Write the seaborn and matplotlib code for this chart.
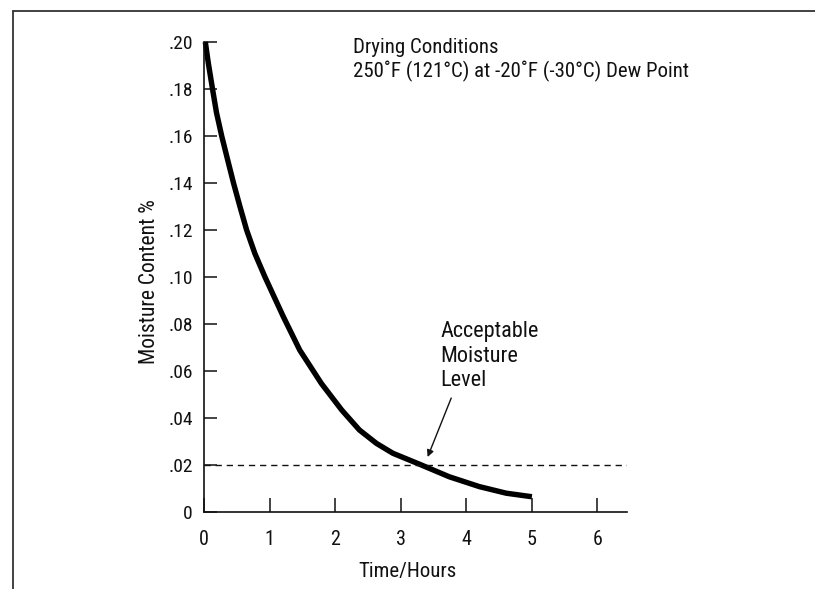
import matplotlib
matplotlib.use("Agg")
import matplotlib.pyplot as plt
from matplotlib.lines import Line2D
import seaborn as sns
import pandas as pd

# ---- data ----
hours = [0.02, 0.066, 0.13, 0.19, 0.27, 0.355, 0.45, 0.548, 0.65, 0.776, 0.93, 1.21, 1.46,
         1.79, 2.10, 2.37, 2.63, 2.88, 3.29, 3.74, 4.20, 4.61, 5.00]
moisture = [0.200, 0.191, 0.180, 0.170, 0.160, 0.1505, 0.140, 0.130, 0.120, 0.110, 0.100, 0.0831,
            0.0689, 0.0547, 0.0434, 0.0349, 0.0292, 0.0250, 0.0203, 0.0150, 0.0108, 0.0080, 0.0065]
x_ticks = [0, 1, 2, 3, 4, 5, 6]
x_tick_labels = ["0", "1", "2", "3", "4", "5", "6"]
y_ticks = [0, 0.02, 0.04, 0.06, 0.08, 0.10, 0.12, 0.14, 0.16, 0.18, 0.20]
y_tick_labels = ["0", ".02", ".04", ".06", ".08", ".10", ".12", ".14", ".16", ".18", ".20"]
acceptable_level = 0.02
x_max = 6.45
y_max = 0.20

title_text = "Drying Conditions\n250˚F (121°C) at -20˚F (-30°C) Dew Point"
note_text = "Acceptable\nMoisture\nLevel"
note_pos = (3.61, 0.0812)
arrow_tip = (3.41, 0.0234)
arrow_start = (3.77, 0.0485)

sns.set_style("white")
plt.rcParams["font.family"] = ["Roboto Condensed", "Liberation Sans Narrow", "Liberation Sans", "DejaVu Sans"]
ink = "#111111"

fig = plt.figure(figsize=(8.15, 5.89), dpi=100)
ax = fig.add_axes([0.2503, 0.1307, 0.5190, 0.7980])

df = pd.DataFrame({"hours": hours, "moisture": moisture})
sns.lineplot(data=df, x="hours", y="moisture", ax=ax, color="black", linewidth=3.9,
             estimator=None, sort=True, clip_on=False, solid_capstyle="butt",
             solid_joinstyle="round")

ax.axhline(acceptable_level, color=ink, linewidth=1.0, dashes=(4.5, 3.5))

ax.set_xlim(0, x_max)
ax.set_ylim(0, y_max)
ax.set_xticks(x_ticks)
ax.set_xticklabels(x_tick_labels)
ax.set_yticks(y_ticks)
ax.set_yticklabels(y_tick_labels)

ax.tick_params(axis="x", direction="in", length=10, width=1.1, color=ink, pad=13,
               labelsize=14.5, labelcolor=ink, bottom=True)
ax.tick_params(axis="y", direction="in", length=9.5, width=1.1, color=ink, pad=8,
               labelsize=14, labelcolor=ink, left=True)

for side in ["top", "right"]:
    ax.spines[side].set_visible(False)
for side in ["left", "bottom"]:
    ax.spines[side].set_color(ink)
    ax.spines[side].set_linewidth(1.2)

ax.set_xlabel("Time/Hours", fontsize=15, color=ink)
ax.set_ylabel("Moisture Content %", fontsize=15.5, color=ink)
ax.xaxis.set_label_coords(0.482, -0.106)
ax.yaxis.set_label_coords(-0.104, 0.49)

ax.text(0.352, 1.008, title_text, transform=ax.transAxes, fontsize=15, color=ink,
        ha="left", va="top", linespacing=1.2, clip_on=False)

ax.text(note_pos[0], note_pos[1], note_text, fontsize=16, color=ink,
        ha="left", va="top", linespacing=1.22)
ax.annotate("", xy=arrow_tip, xytext=arrow_start, textcoords="data",
            arrowprops=dict(arrowstyle="-|>", color=ink, lw=1.0,
                            mutation_scale=10, shrinkA=0, shrinkB=0))

# outer frame lines (top and left)
fig.add_artist(Line2D([0.016, 1.0], [0.981, 0.981], transform=fig.transFigure,
                      color="#333333", linewidth=1.3))
fig.add_artist(Line2D([0.016, 0.016], [0.0, 0.981], transform=fig.transFigure,
                      color="#333333", linewidth=1.3))

fig.savefig("out.png", dpi=100)
